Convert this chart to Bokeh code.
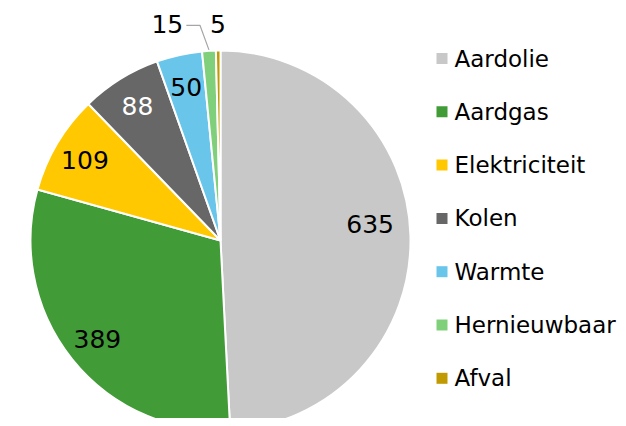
import math
from bokeh.plotting import figure
from bokeh.models import Range1d
from bokeh.core.properties import value
from bokeh.embed import file_html
from bokeh.resources import INLINE

categories = ["Aardolie", "Aardgas", "Elektriciteit", "Kolen", "Warmte", "Hernieuwbaar", "Afval"]
values = [635, 389, 109, 88, 50, 15, 5]
colors = ["#C8C8C8", "#419B37", "#FFC800", "#676767", "#69C6EA", "#80D07B", "#C09A00"]
label_colors = ["black", "black", "black", "white", "black", "black", "black"]

W, H = 618, 418
p = figure(width=W, height=H, output_backend="svg", toolbar_location=None,
           x_range=Range1d(0, W), y_range=Range1d(426 - H, 426),
           min_border=0, outline_line_color=None)
p.axis.visible = False
p.grid.visible = False
p.background_fill_color = "white"
p.border_fill_color = "white"

def sy(y):
    return 426 - y

cx, cy, r = 220, sy(240), 190
total = float(sum(values))
FONT = value("DejaVu Sans")

cum = 0.0
starts, ends, mids = [], [], []
for v in values:
    a0 = cum / total
    cum += v
    a1 = cum / total
    starts.append(math.pi / 2 - 2 * math.pi * a1)
    ends.append(math.pi / 2 - 2 * math.pi * a0)
    mids.append(math.pi / 2 - 2 * math.pi * (a0 + a1) / 2)

p.wedge(x=[cx] * len(values), y=[cy] * len(values), radius=r,
        start_angle=starts, end_angle=ends, fill_color=colors,
        line_color="white", line_width=2)

# data labels
inside = [True, True, True, True, True, False, False]
lx, ly, lt, lc = [], [], [], []
for i, v in enumerate(values):
    m = mids[i]
    if inside[i]:
        rr = 0.83 * r
        x = cx + rr * math.cos(m)
        y = cy + rr * math.sin(m)
        if i == 0:
            x -= 8
            y += 12
    else:
        rr = 1.14 * r
        x = cx + rr * math.cos(m)
        y = cy + rr * math.sin(m)
        if i == 5:
            ax, ay = cx + r * math.cos(m), cy + r * math.sin(m)
            x = x - 40
            p.line([x + 19, ax - 9, ax], [y - 1, y - 1, ay + 1], line_color="#A6A6A6", line_width=1.2)
    lx.append(x); ly.append(y); lt.append(str(v)); lc.append(label_colors[i])

p.text(x=lx, y=ly, text=lt, text_color=lc, text_font=FONT, text_font_size="25px",
       text_align="center", text_baseline="middle")

# legend
leg_y0, leg_dy = 58, 53.3
lgx = [441.5] * len(categories)
lgy = [sy(leg_y0 + i * leg_dy) for i in range(len(categories))]
p.rect(x=lgx, y=lgy, width=11, height=11, width_units="screen", height_units="screen",
       fill_color=colors, line_color=None)
p.text(x=[454] * len(categories), y=lgy, text=categories, text_font=FONT,
       text_font_size="23px", text_color="black", text_align="left", text_baseline="middle")

open("out.html", "w").write(file_html(p, INLINE))
